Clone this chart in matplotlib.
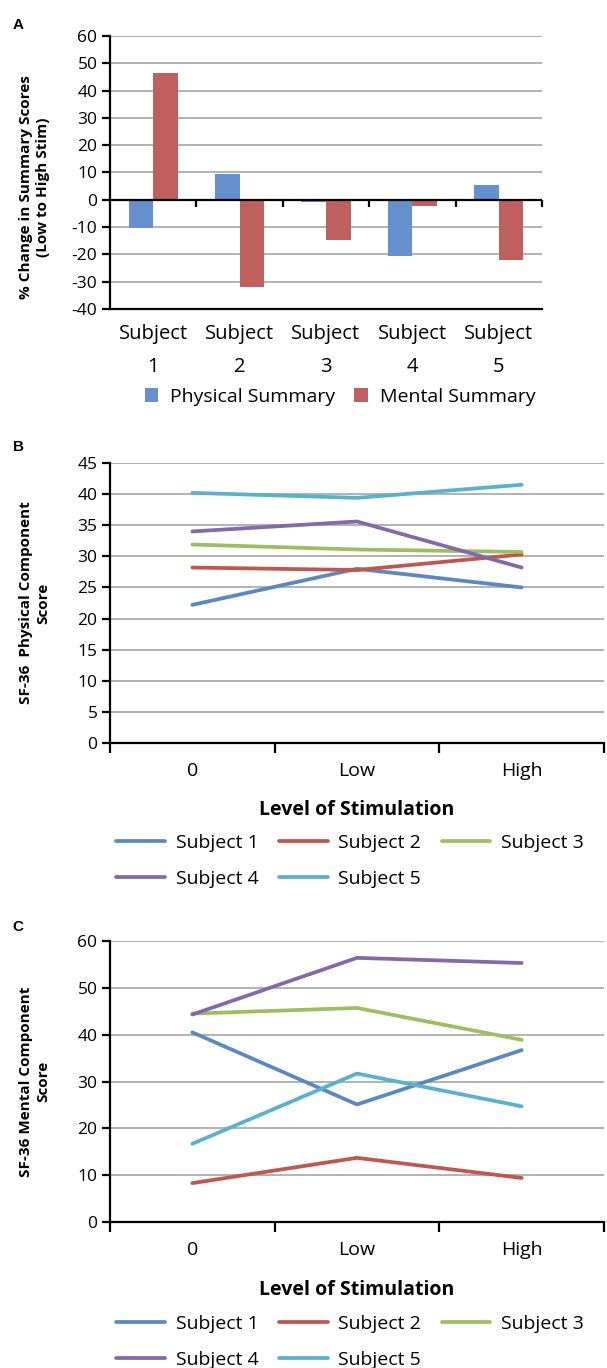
import numpy as np
import matplotlib
matplotlib.use("Agg")
import matplotlib.pyplot as plt

plt.rcParams['font.family'] = ['Open Sans', 'DejaVu Sans']

# ---- data ----
subjects = ['Subject\n1', 'Subject\n2', 'Subject\n3', 'Subject\n4', 'Subject\n5']
physical_change = [-10.5, 9.3, -0.8, -20.5, 5.5]
mental_change = [46.5, -32.0, -14.8, -2.2, -22.0]

levels = ['0', 'Low', 'High']
series_names = ['Subject 1', 'Subject 2', 'Subject 3', 'Subject 4', 'Subject 5']
physical_scores = [
    [22.2, 28.0, 25.0],
    [28.2, 27.8, 30.3],
    [31.9, 31.1, 30.7],
    [34.0, 35.6, 28.2],
    [40.2, 39.4, 41.5],
]
mental_scores = [
    [40.5, 25.1, 36.7],
    [8.3, 13.7, 9.4],
    [44.5, 45.7, 38.9],
    [44.3, 56.4, 55.3],
    [16.7, 31.7, 24.7],
]

bar_colors = ['#6490CE', '#C0605E']
line_colors = ['#5A88C6', '#C0564F', '#9DBE5C', '#8568AA', '#56B2CD']
grid_col = '#A6A6A6'

W, H = 607, 1368
fig = plt.figure(figsize=(W / 100, H / 100), dpi=100)


def rect(left, right, top, bottom):
    return [left / W, 1 - bottom / H, (right - left) / W, (bottom - top) / H]


def fpos(x, y):
    # pixel position (from top-left) -> figure fraction
    return (x / W, 1 - y / H)


def style_axis(ax):
    for s in ['top', 'right']:
        ax.spines[s].set_visible(False)
    ax.spines['left'].set_linewidth(1.6)
    ax.spines['bottom'].set_linewidth(1.6)
    ax.yaxis.grid(True, color=grid_col, linewidth=1.2)
    ax.set_axisbelow(True)
    ax.tick_params(axis='y', direction='out', length=6, width=1.6,
                   labelsize=12.5, pad=3)


# ---- panel A ----
axA = fig.add_axes(rect(110, 542, 36, 309))
style_axis(axA)
x = np.arange(len(subjects))
bw = 0.2857
axA.bar(x - bw / 2, physical_change, bw, color=bar_colors[0], label='Physical Summary')
axA.bar(x + bw / 2, mental_change, bw, color=bar_colors[1], label='Mental Summary')
axA.set_xlim(-0.5, len(subjects) - 0.5)
axA.set_ylim(-40, 60)
axA.set_yticks(np.arange(-40, 61, 10))
axA.set_yticklabels([str(v) for v in range(-40, 61, 10)])
axA.axhline(0, color='black', linewidth=1.6, zorder=3)
bounds = np.arange(0.5, len(subjects), 1.0)
axA.vlines(bounds, -2.6, 0, color='black', linewidth=1.6, zorder=3, clip_on=False)
axA.set_xticks(x)
axA.set_xticklabels(subjects, fontsize=14.5, linespacing=1.85)
axA.tick_params(axis='x', length=0, pad=11)
axA.set_ylabel('% Change in Summary Scores\n(Low to High Stim)', fontsize=11,
               fontweight='bold', linespacing=1.25)
axA.yaxis.set_label_coords(-0.139, 0.447)
axA.legend(loc='center', bbox_to_anchor=fpos(340, 397),
           bbox_transform=fig.transFigure, ncol=2, frameon=False,
           fontsize=14, handlelength=0.7, handleheight=0.7, handletextpad=0.6,
           columnspacing=1.0)
fig.text(*fpos(18, 25), 'A', fontsize=11, fontweight='bold',
         family='Liberation Sans', ha='center', va='center')


def line_panel(top, bottom, scores, ymax, ystep, ylabel, letter, letter_y,
               xlab_y, leg_y):
    ax = fig.add_axes(rect(110, 604, top, bottom))
    style_axis(ax)
    xs = np.arange(len(levels))
    handles = []
    for name, vals, c in zip(series_names, scores, line_colors):
        h, = ax.plot(xs, vals, color=c, linewidth=2.7, solid_capstyle='round',
                     label=name)
        handles.append(h)
    ax.set_xlim(-0.5, len(levels) - 0.5)
    ax.set_ylim(0, ymax)
    ax.set_yticks(np.arange(0, ymax + 1, ystep))
    ax.set_xticks(xs)
    ax.set_xticklabels(levels, fontsize=14)
    ax.set_xticks(np.arange(-0.5, len(levels), 1.0), minor=True)
    ax.tick_params(axis='x', which='major', length=0, pad=14)
    ax.tick_params(axis='x', which='minor', direction='out', length=7, width=1.6)
    ax.set_xlabel('Level of Stimulation', fontsize=14, fontweight='bold')
    ax.xaxis.set_label_coords(0.5, -(xlab_y - 8 - bottom) / (bottom - top))
    ax.set_ylabel(ylabel, fontsize=11, fontweight='bold', linespacing=1.25)
    ax.yaxis.set_label_coords(-0.121, 0.5)
    order = [0, 3, 1, 4, 2]
    ax.legend([handles[i] for i in order], [series_names[i] for i in order],
              loc='center', bbox_to_anchor=fpos(350, leg_y + 2),
              bbox_transform=fig.transFigure, ncol=3,
              frameon=False, fontsize=14, handlelength=2.5, handletextpad=0.55,
              columnspacing=1.05, labelspacing=0.95)
    fig.text(*fpos(18, letter_y), letter, fontsize=11, fontweight='bold',
             family='Liberation Sans', ha='center', va='center')
    return ax


line_panel(463, 743, physical_scores, 45, 5,
           'SF-36  Physical Component\nScore', 'B', 447, 808, 859)
line_panel(941, 1222, mental_scores, 60, 10,
           'SF-36 Mental Component\nScore', 'C', 927, 1288, 1340)

fig.savefig('out.png', dpi=100)
